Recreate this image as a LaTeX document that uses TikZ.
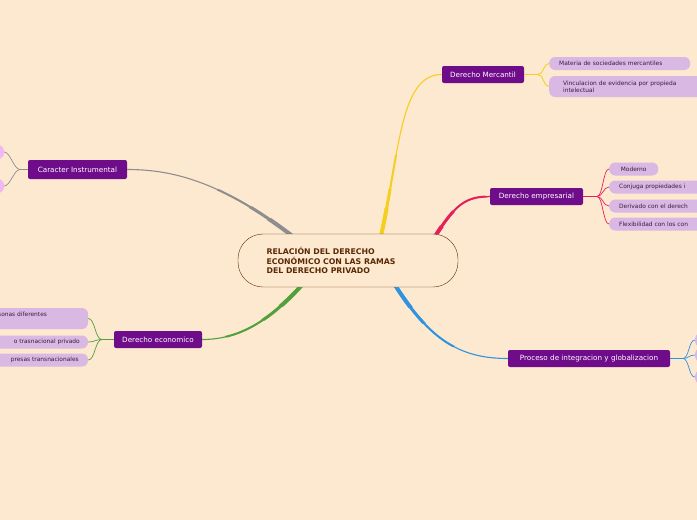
\documentclass[tikz,border=0pt]{standalone}
\usepackage{fontspec}
\setmainfont{DejaVu Sans}
\begin{document}
\begin{tikzpicture}[x=1pt,y=-1pt,
 main/.style={fill=mainc,text=white,rounded corners=2pt,font=\fontsize{7.2}{8}\selectfont,inner sep=0pt,anchor=center},
 leaf/.style={fill=leafc,text=leaftext,rounded corners=6pt,font=\fontsize{5.9}{7}\selectfont,inner sep=0pt},
 ltext/.style={text=leaftext,font=\fontsize{5.9}{7}\selectfont,inner sep=0pt}]
\definecolor{bg}{HTML}{FDE8D0}
\definecolor{mainc}{HTML}{6E0C8A}
\definecolor{leafc}{HTML}{D9B8E3}
\definecolor{leaftext}{HTML}{3A1A40}
\definecolor{pinkl}{HTML}{F0B8F4}
\definecolor{cgray}{HTML}{8E8E8E}
\definecolor{cyel}{HTML}{F5CE1E}
\definecolor{cred}{HTML}{E5215A}
\definecolor{cblue}{HTML}{2E94E0}
\definecolor{cgreen}{HTML}{4FA13C}
\definecolor{cbrown}{HTML}{5A2A06}
\fill[bg] (0,0) rectangle (697,520);
\useasboundingbox (0,0) rectangle (697,520);
\clip (0,0) rectangle (697,520);
\coordinate (cg) at (295,238); \coordinate (cy) at (381,236); \coordinate (cr) at (434,238);
\coordinate (cb) at (395,285); \coordinate (cgr) at (302,285);
\node[main,minimum width=99,minimum height=19] (ci) at (77.5,169.5) {Caracter Instrumental};
\node[main,minimum width=88,minimum height=17] (de) at (158,339.5) {Derecho economico};
\node[main,minimum width=82,minimum height=17] (dm) at (483,74.5) {Derecho Mercantil};
\node[main,minimum width=93,minimum height=17] (dem) at (536.5,196.5) {Derecho empresarial};
\node[main,minimum width=162,minimum height=17] (pg) at (589,358.5) {Proceso de integracion y globalizacion};
\foreach \w/\rx/\ry in {1.1/400/400, 2/170/110, 3/140/75, 4/120/55} {
\begin{scope}
\clip (348,260.5) ellipse ({\rx} and {\ry});
\draw[cgray,line width=\w] (cg) .. controls (220,180) and (170,169.5) .. (ci.east);
\draw[cyel,line width=\w] (cy) .. controls (400,150) and (400,74.5) .. (dm.west);
\draw[cred,line width=\w] (cr) .. controls (455,205) and (465,196.5) .. (dem.west);
\draw[cblue,line width=\w] (cb) .. controls (430,340) and (460,358.5) .. (pg.west);
\draw[cgreen,line width=\w] (cgr) .. controls (270,320) and (240,339.5) .. (de.east);
\end{scope}}
\node[draw=cbrown,fill=bg,rounded corners=25pt,minimum width=220,minimum height=53,inner sep=0pt] (c) at (348,260.5) {};
\node[anchor=west,align=left,text=cbrown,font=\fontsize{7.8}{9.4}\selectfont\bfseries] (ct) at (263,260.5) {RELACIÓN DEL DERECHO\\ECONÓMICO CON LAS RAMAS\\DEL DERECHO PRIVADO};
\node[fill=pinkl,rounded corners=6pt,minimum width=16,minimum height=14] (l1) at (-4,152) {};
\node[fill=pinkl,rounded corners=6pt,minimum width=16,minimum height=14] (l2) at (-4,186) {};
\coordinate (cs) at (20,169.5);
\draw[cgray,line width=0.7] (ci.west) -- (cs) .. controls +(-6,0) and +(6,0) .. (l1.east);
\draw[cgray,line width=0.7] (cs) .. controls +(-6,0) and +(6,0) .. (l2.east);
\node[leaf,minimum width=128,minimum height=21] (e1) at (24,318.5) {};
\node[ltext,anchor=north west] at (-2,312) {sonas diferentes};
\node[leaf,minimum width=128,minimum height=13] (e2) at (24,342) {};
\node[ltext,anchor=east] at (80,342) {o trasnacional privado};
\node[leaf,minimum width=128,minimum height=13] (e3) at (24,360) {};
\node[ltext,anchor=east] at (79,360) {presas transnacionales};
\coordinate (es) at (102,339.5);
\draw[cgreen,line width=0.7] (de.west) -- (es);
\foreach \n in {e1,e2,e3} \draw[cgreen,line width=0.7] (es) .. controls +(-7,0) and +(7,0) .. (\n.east);
\node[leaf,minimum width=141,minimum height=13,anchor=west,text width=131,align=left,inner xsep=5pt] (m1) at (549,63.5) {\hspace*{5pt}Materia de sociedades mercantiles};
\node[leaf,minimum width=160,minimum height=21,anchor=west,align=left,text width=150,inner xsep=5pt] (m2) at (549,86.5) {\hspace*{9pt}Vinculacion de evidencia por propieda\\\hspace*{9pt}intelectual};
\coordinate (ms) at (538,74.5);
\draw[cyel,line width=0.8] (dm.east) -- (ms);
\foreach \n in {m1,m2} \draw[cyel,line width=0.8] (ms) .. controls +(6,0) and +(-6,0) .. (\n.west);
\node[leaf,minimum width=49,minimum height=13,anchor=west] (p1) at (609,169) {Moderno};
\node[leaf,minimum width=100,minimum height=13,anchor=west,text width=90,align=left,inner xsep=10pt] (p2) at (609,187) {Conjuga propiedades i};
\node[leaf,minimum width=100,minimum height=13,anchor=west,text width=90,align=left,inner xsep=10pt] (p3) at (609,206) {Derivado con el derech};
\node[leaf,minimum width=100,minimum height=13,anchor=west,text width=90,align=left,inner xsep=10pt] (p4) at (609,224) {Flexibilidad con los con};
\coordinate (ps) at (597,196.5);
\draw[cred,line width=0.7] (dem.east) -- (ps);
\foreach \n in {p1,p2,p3,p4} \draw[cred,line width=0.7] (ps) .. controls +(6,0) and +(-6,0) .. (\n.west);
\node[fill=leafc,minimum width=20,minimum height=13,rounded corners=5pt] (g1) at (705,340) {};
\node[fill=leafc,minimum width=20,minimum height=13,rounded corners=5pt] (g2) at (705,355) {};
\node[fill=leafc,minimum width=20,minimum height=13,rounded corners=5pt] (g3) at (705,377) {};
\coordinate (gs) at (683,358.5);
\draw[cblue,line width=0.7] (pg.east) -- (gs);
\foreach \n in {g1,g2,g3} \draw[cblue,line width=0.7] (gs) .. controls +(6,0) and +(-6,0) .. (\n.west);
\end{tikzpicture}
\end{document}
